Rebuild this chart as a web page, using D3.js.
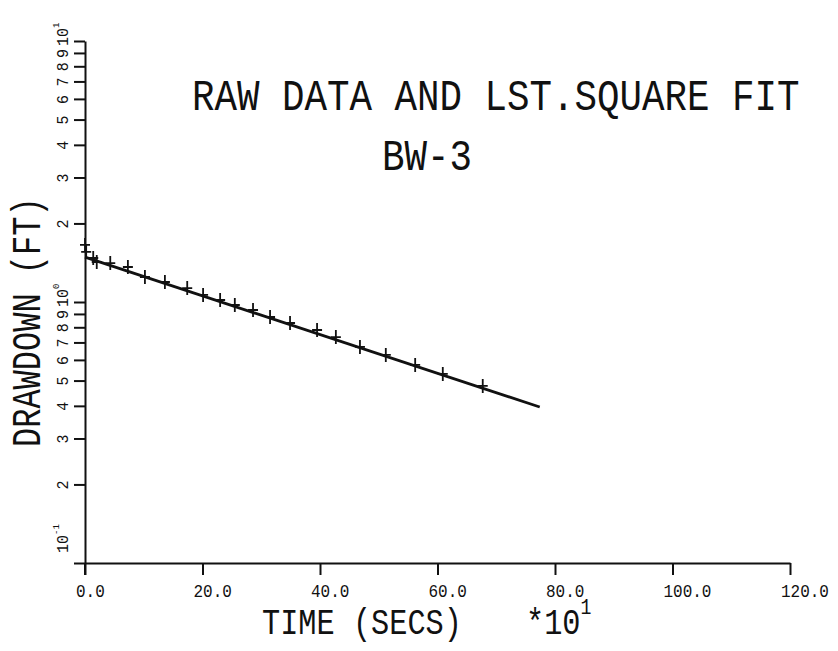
<!DOCTYPE html>
<html>
<head>
<meta charset="utf-8">
<script src="https://cdn.jsdelivr.net/npm/d3@7"></script>
<style>
  html, body { margin: 0; padding: 0; background: #fff; }
  svg { display: block; }
</style>
</head>
<body>
<div id="chart"></div>
<script>
"use strict";

/* ── Data (time in units of 10 s, drawdown in ft) ── */
const timeSecs   = [0, 0.2, 1.4, 2.0, 4.3, 7.3, 10.2, 13.6, 17.4, 20.1, 23.0, 25.5,
                    28.6, 31.5, 34.9, 39.5, 42.7, 46.8, 51.2, 56.2, 60.9, 67.7];
const drawdownFt = [1.654, 1.555, 1.474, 1.423, 1.41, 1.362, 1.247, 1.193, 1.131, 1.064, 1.018, 0.974,
                    0.932, 0.876, 0.831, 0.781, 0.734, 0.673, 0.627, 0.574, 0.530, 0.477];

/* least-square fit end points */
const fitTime     = [0, 77.4];
const fitDrawdown = [1.486, 0.396];

const xTickValues = [0, 20, 40, 60, 80, 100, 120];
const xTickLabels = ["0.0", "20.0", "40.0", "60.0", "80.0", "100.0", "120.0"];

const yTickValues = [0.1, 0.2, 0.3, 0.4, 0.5, 0.6, 0.7, 0.8, 0.9,
                     1, 2, 3, 4, 5, 6, 7, 8, 9, 10];
const yTickLabels = [["10", "-1"], "2", "3", "4", "5", "6", "7", "8", "9",
                     ["10", "0"], "2", "3", "4", "5", "6", "7", "8", "9", ["10", "1"]];

const FONT = "'Liberation Mono', 'DejaVu Sans Mono', monospace";

/* ── Canvas ── */
const W = 838, H = 651;
const svg = d3.select("#chart").append("svg")
  .attr("width", W)
  .attr("height", H);

const x = d3.scaleLinear().domain([0, 120]).range([85, 790]);
const y = d3.scaleLog().domain([0.1, 10]).range([563, 41]);

/* text helper: vertically stretched monospace, like the plotter lettering */
function label(parent, str, px, py, size, stretch, rotate) {
  const g = parent.append("g")
    .attr("transform", `translate(${px},${py})` + (rotate ? " rotate(-90)" : "") + ` scale(1,${stretch})`);
  const t = g.append("text")
    .attr("font-family", FONT)
    .attr("font-size", size)
    .attr("fill", "#111");
  if (Array.isArray(str)) {
    t.append("tspan").text(str[0]);
    t.append("tspan")
      .attr("font-size", size * 0.6)
      .attr("dy", -size * 0.55)
      .text(str[1]);
  } else {
    t.text(str);
  }
  return t;
}

/* ── Axes ── */
const xAxis = d3.axisBottom(x)
  .tickValues(xTickValues)
  .tickSize(12)
  .tickSizeOuter(0)
  .tickFormat("");

const yAxis = d3.axisLeft(y)
  .tickValues(yTickValues)
  .tickSize(11)
  .tickSizeOuter(0)
  .tickFormat("");

const gx = svg.append("g")
  .attr("transform", `translate(0,${y(0.1)})`)
  .call(xAxis);

const gy = svg.append("g")
  .attr("transform", `translate(${x(0)},0)`)
  .call(yAxis);

[gx, gy].forEach(g => {
  g.selectAll("path, line").attr("stroke", "#111").attr("stroke-width", 2);
});

/* y axis runs a little below the x axis */
svg.append("line")
  .attr("x1", x(0)).attr("x2", x(0))
  .attr("y1", y(0.1)).attr("y2", y(0.1) + 12)
  .attr("stroke", "#111").attr("stroke-width", 2);

/* ── Tick labels ── */
xTickValues.forEach((v, i) => {
  label(svg, xTickLabels[i], x(v) - 9, 597, 16, 1.2, false);
});

yTickValues.forEach((v, i) => {
  const off = i === 0 ? -10 : 5;
  label(svg, yTickLabels[i], 68, y(v) + off, 15, 1.1, true);
});

/* ── Fit line ── */
const line = d3.line()
  .x(d => x(d[0]))
  .y(d => y(d[1]));

svg.append("path")
  .datum(fitTime.map((t, i) => [t, fitDrawdown[i]]))
  .attr("d", line)
  .attr("fill", "none")
  .attr("stroke", "#111")
  .attr("stroke-width", 2.8);

/* ── Raw data, plotted as + ── */
svg.append("g")
  .selectAll("path")
  .data(timeSecs.map((t, i) => [t, drawdownFt[i]]))
  .join("path")
  .attr("d", d => {
    const cx = x(d[0]), cy = y(d[1]);
    return `M${cx - 5},${cy}h10M${cx},${cy - 7}v14`;
  })
  .attr("stroke", "#111")
  .attr("stroke-width", 1.8)
  .attr("fill", "none");

/* ── Titles ── */
label(svg, "RAW DATA AND LST.SQUARE FIT", 192, 110, 37.5, 1.17, false);
label(svg, "BW-3", 382, 170, 37.5, 1.17, false);

label(svg, "TIME (SECS)", 262, 634, 30.3, 1.2, false);
label(svg, ["*10", "1"], 526, 634, 30.3, 1.2, false);

label(svg, "DRAWDOWN (FT)", 40, 447, 32, 1.25, true);
</script>
</body>
</html>
